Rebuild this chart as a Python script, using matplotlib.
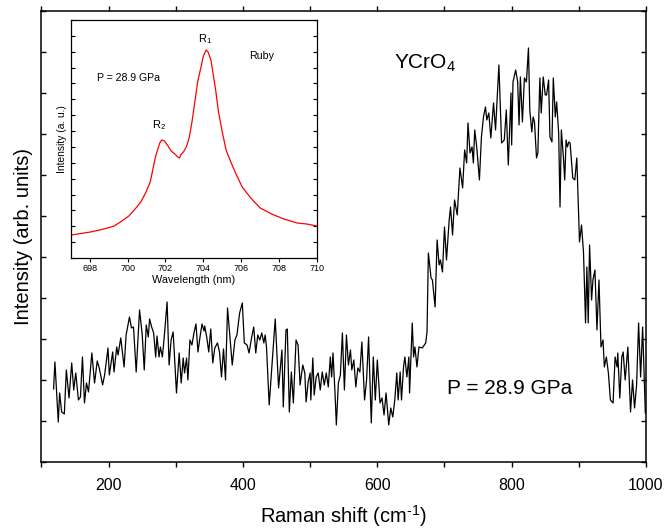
import matplotlib
matplotlib.use('Agg')
import matplotlib.pyplot as plt
from matplotlib.ticker import MultipleLocator

plt.rcParams['font.family'] = ['Liberation Sans', 'DejaVu Sans']
plt.rcParams['mathtext.fontset'] = 'custom'
plt.rcParams['mathtext.rm'] = 'Liberation Sans'
plt.rcParams['mathtext.it'] = 'Liberation Sans:italic'

# Raman spectrum of YCrO4 at 28.9 GPa
raman_shift = [118, 120, 125, 127, 130, 134, 137, 141, 145, 148, 151, 155, 158, 161, 164, 167, 170,
               175, 179, 183, 186, 191, 194, 199, 201, 206, 208, 212, 214, 218, 223, 226, 231, 234,
               237, 241, 246, 250, 253, 256, 259, 261, 264, 267, 270, 272, 275, 277, 280, 283, 287,
               290, 293, 296, 301, 305, 308, 311, 313, 316, 318, 321, 324, 327, 330, 333, 336, 339,
               342, 343, 346, 349, 352, 355, 358, 362, 365, 368, 371, 374, 377, 380, 384, 388, 391,
               395, 399, 402, 406, 409, 413, 416, 419, 422, 425, 428, 431, 433, 435, 439, 443, 448,
               453, 458, 460, 464, 466, 469, 472, 475, 479, 482, 485, 489, 492, 494, 497, 500, 501,
               504, 506, 509, 512, 515, 518, 521, 524, 527, 530, 532, 534, 537, 539, 542, 545, 548,
               551, 554, 557, 560, 562, 565, 568, 571, 574, 577, 581, 584, 587, 591, 594, 597, 600,
               604, 607, 610, 613, 617, 620, 623, 626, 629, 631, 634, 636, 639, 641, 644, 647, 648,
               652, 654, 656, 659, 662, 667, 672, 674, 676, 680, 682, 686, 689, 692, 694, 697, 700,
               703, 707, 709, 712, 715, 719, 723, 727, 730, 733, 735, 738, 741, 743, 745, 748, 752,
               755, 758, 761, 763, 766, 769, 773, 776, 781, 785, 789, 792, 795, 799, 800, 802, 806,
               809, 811, 813, 816, 819, 822, 825, 827, 830, 832, 834, 837, 839, 842, 844, 847, 850,
               852, 855, 857, 860, 862, 865, 867, 870, 872, 874, 877, 879, 881, 883, 885, 887, 891,
               894, 897, 901, 904, 907, 910, 912, 914, 916, 919, 921, 924, 927, 930, 933, 936, 938,
               941, 944, 947, 951, 954, 957, 958, 961, 964, 966, 969, 973, 977, 980, 983, 986, 989,
               992, 995, 999]
intensity = [73, 100, 40, 69, 50, 48, 92, 64, 99, 72, 89, 62, 65, 105, 59, 79, 70,
             109, 79, 101, 94, 77, 87, 114, 87, 110, 90, 115, 107, 124, 95, 127, 145, 134,
             135, 90, 152, 127, 92, 137, 125, 143, 135, 129, 105, 126, 105, 115, 105, 127, 160,
             97, 122, 130, 69, 109, 79, 104, 89, 104, 82, 122, 117, 129, 138, 110, 125, 138,
             131, 136, 125, 110, 133, 99, 114, 119, 110, 85, 113, 82, 154, 129, 97, 122, 127,
             149, 159, 119, 117, 109, 125, 135, 109, 127, 122, 129, 119, 127, 115, 57, 95, 143,
             74, 112, 55, 132, 133, 50, 90, 59, 122, 117, 77, 97, 89, 60, 80, 89, 62,
             104, 67, 85, 89, 72, 90, 77, 89, 75, 105, 85, 109, 69, 37, 79, 87, 129,
             72, 127, 97, 112, 92, 102, 75, 94, 90, 120, 62, 82, 125, 39, 105, 62, 102,
             59, 64, 47, 69, 37, 54, 45, 62, 89, 62, 90, 62, 95, 105, 85, 105, 69,
             139, 105, 115, 95, 115, 114, 119, 130, 209, 184, 182, 155, 222, 197, 202, 190, 235,
             202, 242, 255, 227, 262, 247, 294, 274, 312, 299, 339, 309, 315, 299, 332, 315, 282,
             325, 345, 355, 342, 349, 324, 359, 332, 397, 319, 322, 352, 297, 369, 317, 380, 392,
             380, 337, 385, 340, 384, 380, 414, 352, 330, 345, 340, 304, 309, 384, 349, 385, 367,
             367, 382, 325, 320, 384, 345, 360, 329, 255, 332, 305, 282, 322, 315, 320, 319, 284,
             282, 304, 220, 237, 209, 139, 195, 139, 217, 162, 182, 192, 132, 182, 115, 122, 95,
             105, 89, 62, 59, 105, 95, 109, 64, 105, 110, 82, 115, 50, 82, 54, 77, 139,
             85, 135, 49]

# ruby fluorescence (inset)
wavelength = [697.04, 698.05, 698.75, 699.3, 699.7, 700.07, 700.4, 700.7, 700.95, 701.2, 701.35,
              701.5, 701.7, 701.8, 701.95, 702.1, 702.3, 702.5, 702.65, 702.75, 702.8, 702.95,
              703.1, 703.25, 703.4, 703.55, 703.7, 703.9, 704.0, 704.15, 704.25, 704.4, 704.5,
              704.65, 704.8, 705.0, 705.2, 705.45, 705.7, 706.05, 706.5, 707.0, 707.6, 708.25,
              708.95, 709.45, 710.0]
ruby = [23, 26, 29, 32, 37, 42, 49, 56, 65, 76, 90,
        103, 115, 118, 117, 113, 107, 104, 101, 100, 103, 106,
        111, 120, 136, 156, 176, 193, 202, 208, 206, 198, 186,
        168, 146, 126, 108, 96, 85, 71, 60, 50, 44, 39,
        35, 34, 32]

fig = plt.figure(figsize=(6.67, 5.29), dpi=100)
ax = fig.add_axes([0.0622, 0.1267, 0.9063, 0.8526])
ax.plot(raman_shift, intensity, color='black', lw=0.9)
ax.set_xlim(100, 1000)
ax.set_ylim(0, 451)
ax.xaxis.set_major_locator(MultipleLocator(200))
ax.xaxis.set_minor_locator(MultipleLocator(100))
ax.yaxis.set_major_locator(MultipleLocator(41))
ax.tick_params(axis='x', which='both', direction='out', length=3.5, width=1, top=True,
               labelsize=11.5, pad=8)
ax.tick_params(axis='y', direction='in', length=3.5, width=1, left=True, right=True,
               labelleft=False)
for s in ax.spines.values():
    s.set_linewidth(1.1)
ax.set_xlabel(r'Raman shift (cm$^{\text{-}1}$)', fontsize=14.5, labelpad=7)
ax.set_ylabel('Intensity (arb. units)', fontsize=14.5)
ax.yaxis.set_label_coords(-0.014, 0.5)
ax.text(625, 399, r'YCrO$_4$', fontsize=15, va='center', ha='left')
ax.text(703, 73, 'P = 28.9 GPa', fontsize=15, va='center', ha='left')

ins = fig.add_axes([0.106, 0.5123, 0.3693, 0.4499])
ins.plot(wavelength, ruby, color='red', lw=0.9)
ins.set_xlim(697, 710)
ins.set_ylim(0, 238)
ins.xaxis.set_major_locator(MultipleLocator(2))
ins.yaxis.set_major_locator(MultipleLocator(238 / 15))
ins.tick_params(axis='x', direction='out', length=3, width=0.8, labelsize=6.5, pad=1.5)
ins.tick_params(axis='y', direction='in', length=3, width=0.8, left=True, right=True,
                labelleft=False)
for s in ins.spines.values():
    s.set_linewidth(0.9)
ins.set_xlabel('Wavelength (nm)', fontsize=7.8, labelpad=1)
ins.set_ylabel('Intensity (a. u.)', fontsize=7.4, labelpad=3)
ins.text(704.1, 219, r'R$_1$', fontsize=8, ha='center', va='center')
ins.text(701.65, 133, r'R$_2$', fontsize=8, ha='center', va='center')
ins.text(707.1, 202, 'Ruby', fontsize=7.7, ha='center', va='center')
ins.text(698.37, 180, 'P = 28.9 GPa', fontsize=7.6, ha='left', va='center')

fig.savefig('out.png', dpi=100)
